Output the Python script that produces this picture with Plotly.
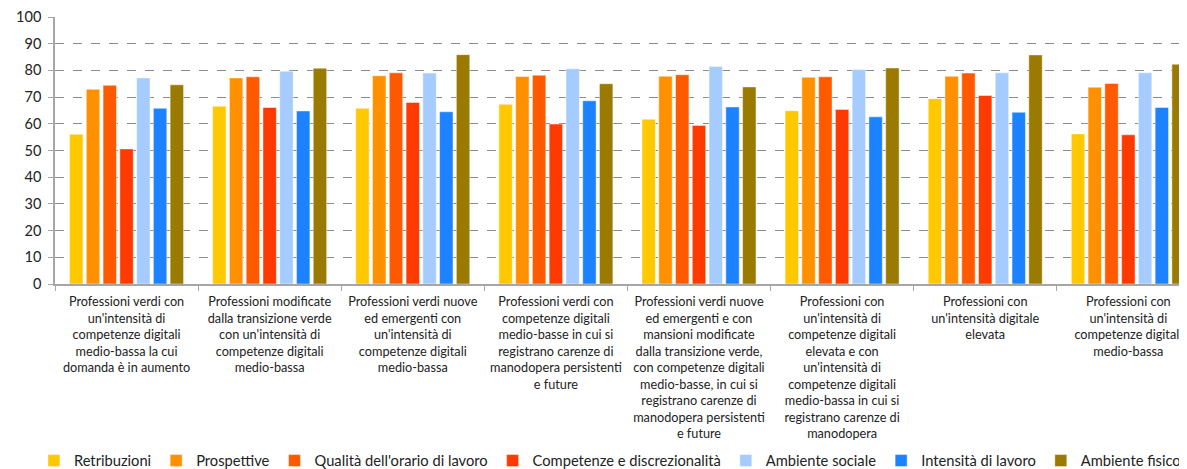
import plotly.graph_objects as go

# --- DATA ---
categories = [
    "Professioni verdi con<br>un'intensità di<br>competenze digitali<br>medio-bassa la cui<br>domanda è in aumento",
    "Professioni modificate<br>dalla transizione verde<br>con un'intensità di<br>competenze digitali<br>medio-bassa",
    "Professioni verdi nuove<br>ed emergenti con<br>un'intensità di<br>competenze digitali<br>medio-bassa",
    "Professioni verdi con<br>competenze digitali<br>medio-basse in cui si<br>registrano carenze di<br>manodopera persistenti<br>e future",
    "Professioni verdi nuove<br>ed emergenti e con<br>mansioni modificate<br>dalla transizione verde,<br>con competenze digitali<br>medio-basse, in cui si<br>registrano carenze di<br>manodopera persistenti<br>e future",
    "Professioni con<br>un'intensità di<br>competenze digitali<br>elevata e con<br>un'intensità di<br>competenze digitali<br>medio-bassa in cui si<br>registrano carenze di<br>manodopera",
    "Professioni con<br>un'intensità digitale<br>elevata",
    "Professioni con<br>un'intensità di<br>competenze digitali<br>medio-bassa",
]

retribuzioni = [56.1, 66.6, 65.8, 67.3, 61.7, 64.9, 69.4, 56.2]
prospettive = [72.9, 77.2, 78.0, 77.7, 77.8, 77.4, 77.8, 73.7]
qualita_orario = [74.4, 77.6, 79.1, 78.2, 78.4, 77.6, 79.0, 75.1]
competenze = [50.6, 66.1, 68.0, 59.9, 59.4, 65.4, 70.6, 55.9]
ambiente_sociale = [77.2, 79.7, 79.0, 80.6, 81.5, 80.3, 79.1, 79.1]
intensita = [65.8, 64.8, 64.5, 68.6, 66.3, 62.6, 64.3, 66.1]
ambiente_fisico = [74.6, 80.8, 85.9, 75.0, 73.8, 80.9, 85.8, 82.3]

series = [
    ("Retribuzioni", retribuzioni, "#FFC800"),
    ("Prospettive", prospettive, "#FF9100"),
    ("Qualità dell'orario di lavoro", qualita_orario, "#FF5A00"),
    ("Competenze e discrezionalità", competenze, "#FF3A00"),
    ("Ambiente sociale", ambiente_sociale, "#A6CBFF"),
    ("Intensità di lavoro", intensita, "#1C82FF"),
    ("Ambiente fisico", ambiente_fisico, "#9A7A00"),
]

FONT = "Lato"

fig = go.Figure()
for name, vals, color in series:
    fig.add_trace(go.Bar(
        x=categories, y=vals, name=name,
        marker=dict(color=color, line=dict(color="rgba(255,255,255,0.45)", width=1)),
    ))

# the page body has an 8px margin, so the figure is 8px smaller than the window
fig.update_layout(
    width=1179, height=461,
    barmode="group", bargap=0.18, bargroupgap=0.2,
    plot_bgcolor="white", paper_bgcolor="white",
    margin=dict(l=47, r=0, t=9, b=185, autoexpand=False),
    font=dict(family=FONT, color="#222222"),
    showlegend=True,
    legend=dict(
        orientation="h", x=-0.0186, xanchor="left", y=-0.663, yanchor="middle",
        font=dict(size=14.7, family=FONT), itemwidth=30, tracegroupgap=0,
        borderwidth=0,
    ),
)

fig.update_yaxes(
    range=[0, 100], dtick=10,
    showgrid=True, gridcolor="#8C8C8C", griddash="dash", gridwidth=1,
    showline=True, linecolor="#A6A6A6", linewidth=1.5,
    ticks="outside", ticklen=5, tickcolor="#A6A6A6",
    tickfont=dict(size=14.5, family=FONT), ticklabelstandoff=4,
    zeroline=False, automargin=False,
)

fig.update_xaxes(
    range=[-0.5, 7.41],
    showline=True, linecolor="#A6A6A6", linewidth=1.5,
    ticks="outside", ticklen=5, tickcolor="#A6A6A6", tickson="boundaries",
    tickfont=dict(size=12.7, family=FONT), ticklabelstandoff=5,
    tickangle=0, automargin=False,
)

fig.write_html("out.html")
